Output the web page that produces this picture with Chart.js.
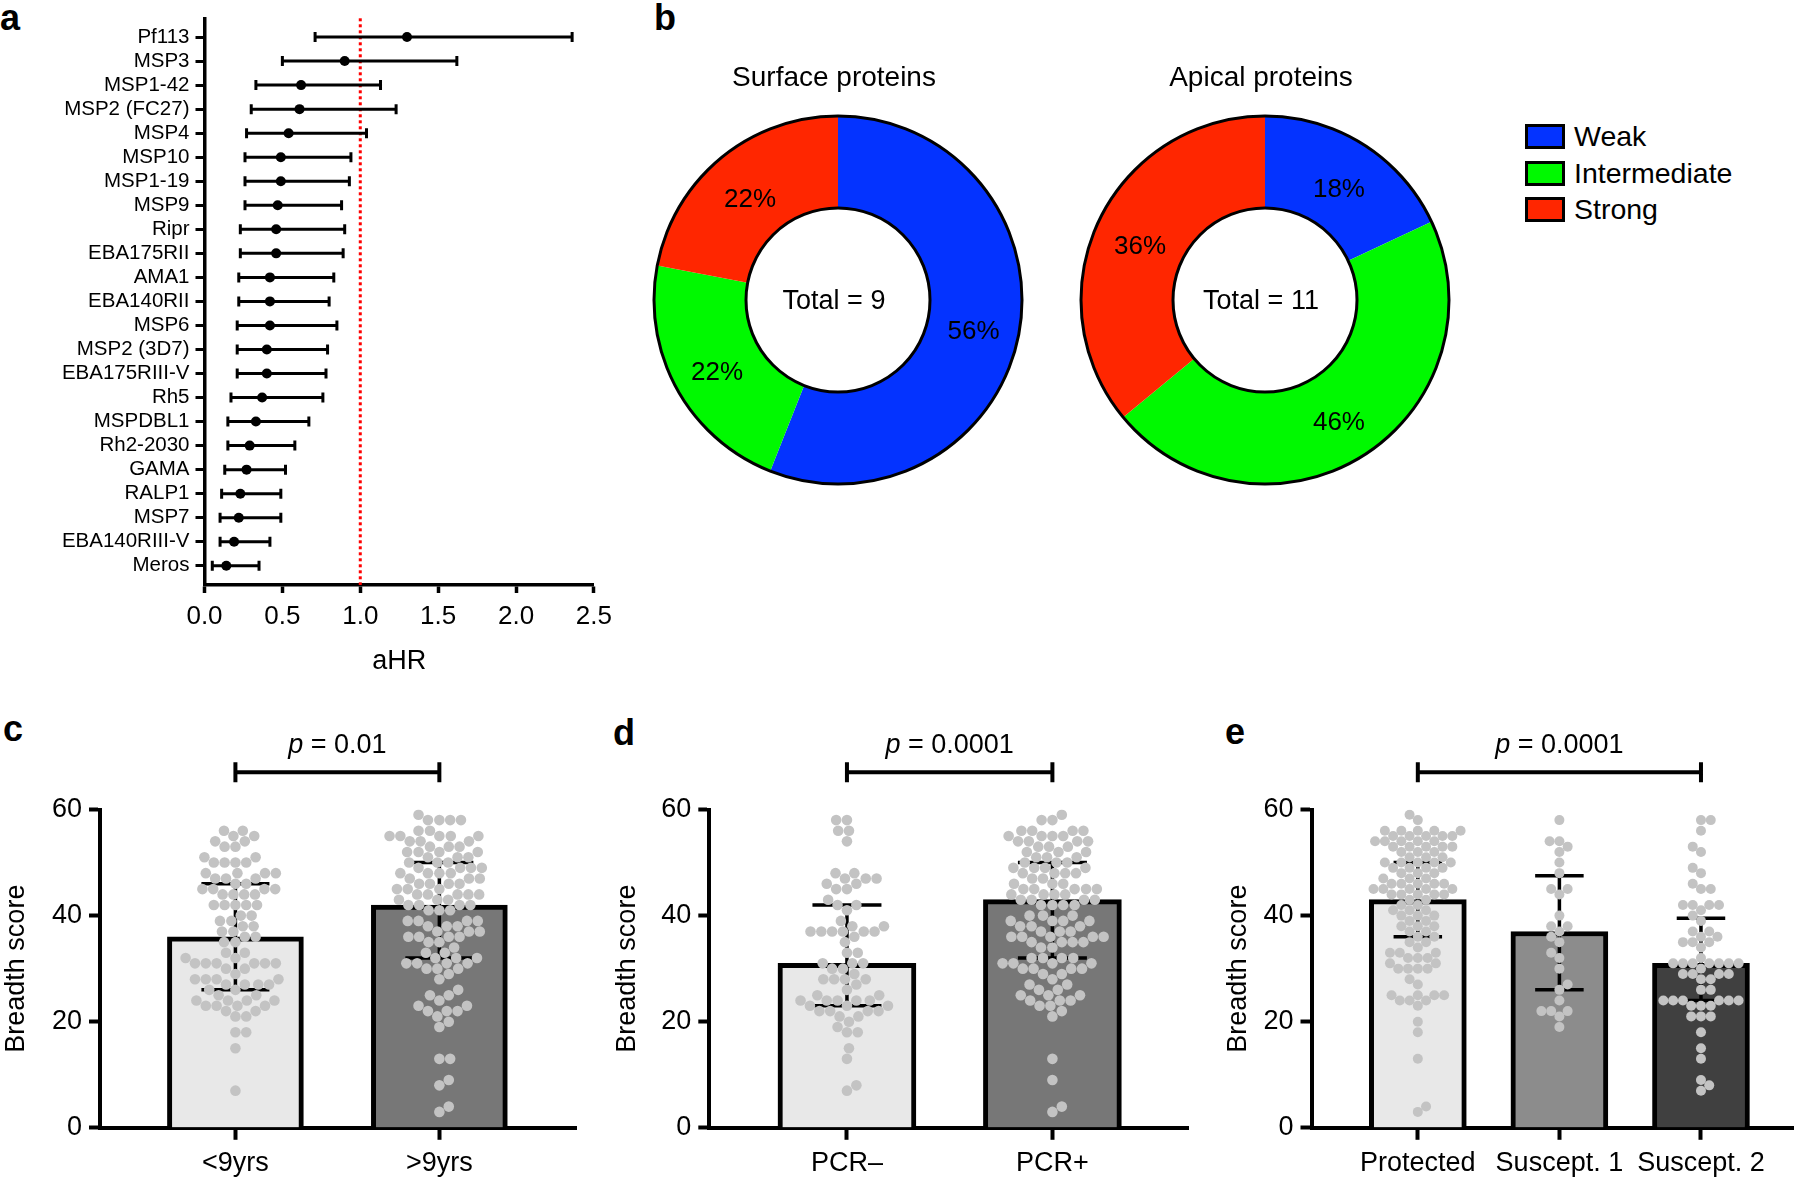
<!DOCTYPE html>
<html lang="en">
<head>
<meta charset="UTF-8" />
<title>Breadth of antibody response</title>
<script src="https://cdn.jsdelivr.net/npm/chart.js@4.4.1/dist/chart.umd.min.js"></script>
<style>
  body { margin: 0; background: #fff; }
  .page { position: relative; width: 1798px; height: 1178px; overflow: hidden;
          font-family: "Liberation Sans", Arial, Helvetica, sans-serif; color: #000; }
  .box { position: absolute; }
  .tag { position: absolute; font-size: 36px; font-weight: bold; line-height: 1; }
  .leg { position: absolute; left: 1525px; height: 25px; display: flex; align-items: center; font-size: 28.5px; }
  .leg span.sw { width: 34px; height: 19px; border: 3px solid #000; margin-right: 9px; }
</style>
</head>
<body>
<div class="page">
  <div class="tag" style="left:0px;top:0px">a</div>
  <div class="tag" style="left:654px;top:0px">b</div>
  <div class="tag" style="left:3px;top:711px">c</div>
  <div class="tag" style="left:613px;top:715px">d</div>
  <div class="tag" style="left:1225px;top:714px">e</div>

  <div class="box" style="left:0;top:0;width:620px;height:690px"><canvas id="chartA"></canvas></div>
  <div class="box" style="left:638px;top:40px;width:400px;height:460px"><canvas id="chartSurface"></canvas></div>
  <div class="box" style="left:1065px;top:40px;width:400px;height:460px"><canvas id="chartApical"></canvas></div>
  <div id="legend"></div>

  <div class="box" style="left:0;top:700px;width:600px;height:478px"><canvas id="chartC"></canvas></div>
  <div class="box" style="left:611px;top:700px;width:599px;height:478px"><canvas id="chartD"></canvas></div>
  <div class="box" style="left:1222px;top:700px;width:576px;height:478px"><canvas id="chartE"></canvas></div>
</div>
<script>
  // ---- panel a: adjusted hazard ratios ----
  const antigens = ["Pf113", "MSP3", "MSP1-42", "MSP2 (FC27)", "MSP4", "MSP10", "MSP1-19", "MSP9", "Ripr",
    "EBA175RII", "AMA1", "EBA140RII", "MSP6", "MSP2 (3D7)", "EBA175RIII-V", "Rh5", "MSPDBL1", "Rh2-2030",
    "GAMA", "RALP1", "MSP7", "EBA140RIII-V", "Meros"];
  const ahr = [1.30, 0.90, 0.62, 0.61, 0.54, 0.49, 0.49, 0.47, 0.46, 0.46, 0.42, 0.42, 0.42, 0.40, 0.40,
    0.37, 0.33, 0.29, 0.27, 0.23, 0.22, 0.19, 0.14];
  const ahrLow = [0.71, 0.50, 0.33, 0.30, 0.27, 0.26, 0.26, 0.26, 0.23, 0.23, 0.22, 0.22, 0.21, 0.21, 0.21,
    0.17, 0.15, 0.15, 0.13, 0.11, 0.10, 0.10, 0.05];
  const ahrHigh = [2.36, 1.62, 1.13, 1.23, 1.04, 0.94, 0.93, 0.88, 0.90, 0.89, 0.83, 0.80, 0.85, 0.79, 0.78,
    0.76, 0.67, 0.58, 0.52, 0.49, 0.49, 0.42, 0.35];
  const ahrTicks = [0, 0.5, 1.0, 1.5, 2.0, 2.5];

  // ---- panel b: response strength ----
  const strengthLabels = ["Weak", "Intermediate", "Strong"];
  const strengthColors = ["#0433FF", "#00F900", "#FF2600"];
  const surfacePct = [56, 22, 22];
  const apicalPct = [18, 46, 36];
  const surfaceTotal = 9;
  const apicalTotal = 11;

  // ---- panel c: age ----
  const ageGroups = ["<9yrs", ">9yrs"];
  const ageMedian = [36, 42];
  const ageLow = [26, 32];
  const ageHigh = [46, 50];
  const ageYoung = [56, 56, 55, 55, 54, 54, 53, 53, 51, 51, 50, 50, 50, 50, 48, 48, 48, 48, 47, 47, 47, 46, 46,
    45, 45, 45, 45, 44, 44, 44, 44, 42, 42, 42, 42, 42, 40, 40, 39, 39, 38, 38, 37, 37, 36, 36, 35, 35, 33, 33,
    32, 32, 31, 31, 31, 31, 31, 31, 30, 30, 29, 28, 28, 28, 28, 27, 27, 27, 27, 26, 26, 25, 25, 24, 24, 24, 24,
    23, 23, 23, 23, 22, 22, 21, 21, 18, 18, 15, 7];
  const ageOld = [59, 58, 58, 58, 58, 56, 56, 55, 55, 55, 55, 55, 54, 54, 54, 53, 53, 53, 52, 52, 52, 52, 51,
    51, 51, 50, 50, 50, 49, 49, 49, 49, 48, 48, 48, 48, 47, 47, 47, 46, 46, 46, 46, 45, 45, 45, 44, 44, 44, 44,
    44, 43, 43, 43, 42, 42, 42, 42, 41, 41, 41, 39, 39, 39, 39, 38, 38, 38, 37, 37, 37, 36, 36, 36, 36, 35, 35,
    34, 33, 33, 32, 32, 32, 31, 31, 31, 31, 30, 30, 30, 29, 28, 26, 25, 25, 24, 23, 23, 22, 22, 22, 21, 20, 19,
    13, 13, 9, 8, 4, 3];

  // ---- panel d: PCR status ----
  const pcrGroups = ["PCR\u2013", "PCR+"];
  const pcrMedian = [31, 43];
  const pcrLow = [23, 32];
  const pcrHigh = [42, 50];
  const pcrNeg = [58, 58, 56, 56, 54, 48, 48, 47, 47, 47, 46, 46, 45, 45, 43, 42, 42, 41, 39, 38, 38, 37, 37,
    37, 37, 37, 37, 36, 35, 33, 33, 31, 31, 31, 30, 30, 29, 28, 28, 28, 28, 27, 26, 25, 25, 24, 24, 24, 24, 24,
    23, 23, 23, 22, 22, 22, 22, 21, 21, 20, 19, 18, 18, 15, 13, 8, 7];
  const pcrPos = [59, 58, 58, 56, 56, 56, 56, 55, 55, 55, 55, 54, 54, 54, 54, 53, 53, 53, 52, 52, 52, 51, 51,
    51, 50, 50, 50, 49, 49, 49, 49, 48, 48, 48, 48, 47, 47, 46, 46, 46, 45, 45, 45, 45, 45, 44, 44, 44, 44, 43,
    43, 43, 43, 42, 42, 42, 42, 40, 40, 40, 39, 39, 39, 39, 38, 38, 38, 37, 37, 37, 36, 36, 36, 36, 36, 35, 35,
    35, 35, 34, 34, 32, 32, 32, 32, 31, 31, 31, 31, 30, 30, 30, 30, 29, 29, 28, 27, 27, 26, 26, 25, 25, 25, 24,
    24, 24, 23, 23, 22, 21, 13, 9, 4, 3];

  // ---- panel e: clinical outcome ----
  const outcomeGroups = ["Protected", "Suscept. 1", "Suscept. 2"];
  const outcomeMedian = [43, 37, 31];
  const outcomeLow = [36, 26, 24];
  const outcomeHigh = [50, 47.5, 39.5];
  const protectedDots = [59, 58, 56, 56, 56, 56, 56, 55, 55, 55, 55, 55, 54, 54, 54, 54, 54, 53, 53, 53, 53,
    53, 52, 52, 52, 51, 51, 51, 50, 50, 50, 50, 50, 49, 49, 49, 49, 48, 48, 48, 47, 47, 47, 46, 46, 46, 46, 46,
    45, 45, 45, 45, 45, 44, 44, 44, 44, 44, 43, 43, 42, 42, 41, 41, 41, 40, 40, 40, 39, 39, 38, 38, 38, 37, 37,
    36, 36, 35, 35, 34, 33, 33, 33, 32, 32, 32, 31, 31, 30, 30, 30, 30, 28, 27, 25, 25, 25, 25, 24, 24, 24, 23,
    20, 18, 13, 4, 3];
  const suscept1Dots = [58, 54, 54, 53, 52, 50, 48, 45, 45, 44, 40, 38, 38, 37, 36, 35, 33, 32, 30, 27, 26, 24,
    22, 22, 22, 21, 19];
  const suscept2Dots = [58, 58, 56, 53, 52, 49, 48, 46, 45, 45, 42, 42, 42, 42, 41, 40, 39, 37, 37, 36, 36, 35,
    35, 35, 34, 32, 31, 31, 31, 31, 31, 31, 31, 30, 29, 29, 29, 29, 28, 28, 26, 26, 24, 24, 24, 24, 24, 24, 23,
    23, 23, 21, 21, 21, 18, 15, 13, 9, 8, 7];

  const FONT = "'Liberation Sans', Arial, Helvetica, sans-serif";
  Chart.defaults.font.family = FONT;
  Chart.defaults.color = "#000";
  Chart.defaults.animation = false;
  Chart.defaults.plugins.legend.display = false;
  Chart.defaults.plugins.tooltip.enabled = false;

  /** panel a */
  const nA = antigens.length;
  const rowY = (i) => nA - 1 - i;

  const ahrWhiskers = {
    id: "ahrWhiskers",
    beforeDatasetsDraw(chart) {
      const { ctx, chartArea } = chart;
      const x = chart.scales.x, y = chart.scales.y;
      ctx.save();
      ctx.strokeStyle = "#FF0000";
      ctx.lineWidth = 3;
      ctx.setLineDash([3, 3]);
      const xr = x.getPixelForValue(1);
      ctx.beginPath();
      ctx.moveTo(xr, chartArea.top);
      ctx.lineTo(xr, chartArea.bottom);
      ctx.stroke();
      ctx.setLineDash([]);
      ctx.strokeStyle = "#000";
      ctx.lineWidth = 3;
      antigens.forEach((name, i) => {
        const py = y.getPixelForValue(rowY(i));
        const x0 = x.getPixelForValue(ahrLow[i]);
        const x1 = x.getPixelForValue(ahrHigh[i]);
        ctx.beginPath();
        ctx.moveTo(x0, py); ctx.lineTo(x1, py);
        ctx.moveTo(x0, py - 5); ctx.lineTo(x0, py + 5);
        ctx.moveTo(x1, py - 5); ctx.lineTo(x1, py + 5);
        ctx.stroke();
      });
      ctx.restore();
    },
  };

  new Chart(document.getElementById("chartA"), {
    type: "scatter",
    data: {
      datasets: [{
        data: ahr.map((v, i) => ({ x: v, y: rowY(i) })),
        pointRadius: 5,
        pointBackgroundColor: "#000",
        pointBorderWidth: 0,
      }],
    },
    options: {
      responsive: true,
      maintainAspectRatio: false,
      layout: { padding: { top: 18, right: 25, left: 0, bottom: 0 } },
      scales: {
        x: {
          type: "linear", min: 0, max: 2.5,
          afterBuildTicks: (s) => { s.ticks = ahrTicks.map((v) => ({ value: v })); },
          afterFit: (s) => { s.height = 105; },
          ticks: { font: { size: 26 }, padding: 8, maxRotation: 0, callback: (v) => Number(v).toFixed(1) },
          grid: { display: true, drawOnChartArea: false, tickLength: 8, tickWidth: 3.5, tickColor: "#000" },
          border: { display: true, color: "#000", width: 3.5 },
          title: { display: true, text: "aHR", font: { size: 27 }, padding: { top: 0, bottom: 12 } },
        },
        y: {
          type: "linear", min: -0.8, max: nA - 1 + 0.78,
          afterBuildTicks: (s) => { s.ticks = antigens.map((n, i) => ({ value: rowY(i) })); },
          afterFit: (s) => { s.width = 204.5; },
          ticks: { font: { size: 20.5 }, padding: 6, autoSkip: false, callback: (v) => antigens[nA - 1 - v] },
          grid: { display: true, drawOnChartArea: false, tickLength: 9, tickWidth: 3, tickColor: "#000" },
          border: { display: true, color: "#000", width: 3.5 },
        },
      },
    },
    plugins: [ahrWhiskers],
  });

  /** panel b */
  function donut(id, title, pct, total) {
    const ringText = {
      id: "ringText",
      afterDatasetsDraw(chart) {
        const { ctx } = chart;
        const meta = chart.getDatasetMeta(0);
        const a0 = meta.data[0];
        ctx.save();
        ctx.strokeStyle = "#000";
        ctx.lineWidth = 3;
        ctx.beginPath(); ctx.arc(a0.x, a0.y, a0.outerRadius, 0, Math.PI * 2); ctx.stroke();
        ctx.beginPath(); ctx.arc(a0.x, a0.y, a0.innerRadius, 0, Math.PI * 2); ctx.stroke();
        ctx.fillStyle = "#000";
        ctx.textAlign = "center";
        ctx.textBaseline = "middle";
        ctx.font = "26px " + FONT;
        meta.data.forEach((arc, i) => {
          const p = arc.tooltipPosition();
          ctx.fillText(pct[i] + "%", p.x, p.y + 6);
        });
        ctx.font = "27px " + FONT;
        ctx.fillText("Total = " + total, a0.x - 4, a0.y + 2);
        ctx.font = "28px " + FONT;
        ctx.fillText(title, a0.x - 4, a0.y - 222);
        ctx.restore();
      },
    };
    new Chart(document.getElementById(id), {
      type: "doughnut",
      data: {
        labels: strengthLabels,
        datasets: [{ data: pct, backgroundColor: strengthColors, borderWidth: 0 }],
      },
      options: {
        responsive: true,
        maintainAspectRatio: false,
        cutout: "50%",
        layout: { padding: { top: 76, left: 16, right: 16, bottom: 16 } },
      },
      plugins: [ringText],
    });
  }
  donut("chartSurface", "Surface proteins", surfacePct, surfaceTotal);
  donut("chartApical", "Apical proteins", apicalPct, apicalTotal);

  const legend = document.getElementById("legend");
  strengthLabels.forEach((lab, i) => {
    const row = document.createElement("div");
    row.className = "leg";
    row.style.top = (124 + i * 36.7) + "px";
    row.innerHTML = '<span class="sw" style="background:' + strengthColors[i] + '"></span>' + lab;
    legend.appendChild(row);
  });

  /** panels c, d, e */
  // greedy beeswarm: lowest values first, each dot goes to the free spot nearest the centre
  function swarm(pys, minDist) {
    const placed = [];
    let flip = 1;
    return pys.map((py) => {
      const near = placed.filter((p) => Math.abs(p.y - py) < minDist);
      const cands = [0];
      near.forEach((p) => {
        const dx = Math.sqrt(minDist * minDist - (p.y - py) * (p.y - py));
        cands.push(p.x + dx, p.x - dx);
      });
      cands.sort((a, b) => Math.abs(a) - Math.abs(b) || (a - b) * flip);
      let best = cands[cands.length - 1];
      for (const c of cands) {
        if (near.every((p) => (p.x - c) ** 2 + (p.y - py) ** 2 >= minDist * minDist - 0.01)) { best = c; break; }
      }
      flip = -flip;
      placed.push({ x: best, y: py });
      return best;
    });
  }

  function barPanel(cfg) {
    const n = cfg.cats.length;
    const extras = {
      id: "extras",
      afterDatasetDraw(chart, args) {
        if (args.index !== 0) return;
        const { ctx } = chart;
        const x = chart.scales.x, y = chart.scales.y;
        const half = cfg.barPx * 0.25;
        ctx.save();
        ctx.strokeStyle = "#000";
        ctx.lineWidth = 3.5;
        cfg.median.forEach((m, i) => {
          const px = x.getPixelForValue(i + 1);
          const yl = y.getPixelForValue(cfg.low[i]);
          const yh = y.getPixelForValue(cfg.high[i]);
          ctx.beginPath();
          ctx.moveTo(px, yl); ctx.lineTo(px, yh);
          ctx.moveTo(px - half, yl); ctx.lineTo(px + half, yl);
          ctx.moveTo(px - half, yh); ctx.lineTo(px + half, yh);
          ctx.stroke();
        });
        ctx.restore();
      },
      afterDraw(chart) {
        const { ctx } = chart;
        const x = chart.scales.x, y = chart.scales.y;
        const x0 = x.getPixelForValue(1), x1 = x.getPixelForValue(n);
        const by = y.getPixelForValue(67);
        ctx.save();
        ctx.strokeStyle = "#000";
        ctx.lineWidth = 4;
        ctx.beginPath();
        ctx.moveTo(x0, by); ctx.lineTo(x1, by);
        ctx.moveTo(x0, by - 10); ctx.lineTo(x0, by + 10);
        ctx.moveTo(x1, by - 10); ctx.lineTo(x1, by + 10);
        ctx.stroke();
        ctx.fillStyle = "#000";
        ctx.textBaseline = "middle";
        ctx.textAlign = "left";
        ctx.font = "italic 27px " + FONT;
        const wp = ctx.measureText("p").width;
        const rest = " = " + cfg.p;
        ctx.font = "27px " + FONT;
        const wr = ctx.measureText(rest).width;
        const sx = (x0 + x1) / 2 - (wp + wr) / 2;
        ctx.font = "italic 27px " + FONT;
        ctx.fillText("p", sx, by - 27);
        ctx.font = "27px " + FONT;
        ctx.fillText(rest, sx + wp, by - 27);
        ctx.restore();
      },
    };

    const chart = new Chart(document.getElementById(cfg.id), {
      type: "bar",
      data: {
        datasets: [
          {
            type: "bar",
            data: cfg.median.map((v, i) => ({ x: i + 1, y: v })),
            backgroundColor: cfg.fills,
            borderColor: "#000",
            borderWidth: 5,
            borderSkipped: "bottom",
            barThickness: cfg.barPx,
            order: 2,
          },
        ].concat(cfg.dots.map((vals, i) => ({
          type: "scatter",
          data: vals.map((v) => ({ x: i + 1, y: v })),
          pointRadius: cfg.dotR,
          pointBackgroundColor: "#C3C3C3",
          pointBorderWidth: 0,
          order: 1,
        }))),
      },
      options: {
        responsive: true,
        maintainAspectRatio: false,
        layout: { padding: { top: cfg.padTop, right: cfg.padRight, left: 0, bottom: 0 } },
        scales: {
          x: {
            type: "linear", min: cfg.xMin, max: cfg.xMax, offset: false, bounds: "data",
            afterBuildTicks: (s) => { s.ticks = cfg.cats.map((c, i) => ({ value: i + 1 })); },
            afterFit: (s) => { s.height = 50.2; },
            ticks: { font: { size: 27 }, padding: 8, maxRotation: 0, autoSkip: false, callback: (v) => cfg.cats[v - 1] },
            grid: { display: true, offset: false, drawOnChartArea: false, tickLength: 12, tickWidth: 4, tickColor: "#000" },
            border: { display: true, color: "#000", width: 4 },
          },
          y: {
            type: "linear", min: 0, max: 60,
            afterFit: (s) => { s.width = cfg.axisW; },
            ticks: { stepSize: 20, font: { size: 27 }, padding: 7 },
            grid: { display: true, drawOnChartArea: false, tickLength: 11, tickWidth: 4, tickColor: "#000" },
            border: { display: true, color: "#000", width: 4 },
            title: { display: true, text: "Breadth score", font: { size: 27 }, padding: { top: 0, bottom: 0 } },
          },
        },
      },
      plugins: [extras],
    });

    // spread the dots sideways once the scales exist
    const x = chart.scales.x, y = chart.scales.y;
    const pxPerUnit = x.getPixelForValue(1) - x.getPixelForValue(0);
    cfg.dots.forEach((vals, i) => {
      const sorted = vals.slice().sort((a, b) => a - b);
      const offs = swarm(sorted.map((v) => y.getPixelForValue(v)), cfg.dotDist);
      chart.data.datasets[i + 1].data = sorted.map((v, k) => ({ x: i + 1 + offs[k] / pxPerUnit, y: v }));
    });
    chart.update("none");
  }

  barPanel({
    id: "chartC", cats: ageGroups, median: ageMedian, low: ageLow, high: ageHigh,
    dots: [ageYoung, ageOld], fills: ["#E8E8E8", "#777777"], p: "0.01",
    xMin: 0.336, xMax: 2.67, barPx: 136, axisW: 100, padTop: 109.5, padRight: 24, dotR: 5.3, dotDist: 10.8,
  });
  barPanel({
    id: "chartD", cats: pcrGroups, median: pcrMedian, low: pcrLow, high: pcrHigh,
    dots: [pcrNeg, pcrPos], fills: ["#E8E8E8", "#777777"], p: "0.0001",
    xMin: 0.33, xMax: 2.66, barPx: 138, axisW: 98.3, padTop: 109.5, padRight: 22, dotR: 5.3, dotDist: 10.8,
  });
  barPanel({
    id: "chartE", cats: outcomeGroups, median: outcomeMedian, low: outcomeLow, high: outcomeHigh,
    dots: [protectedDots, suscept1Dots, suscept2Dots], fills: ["#E8E8E8", "#8C8C8C", "#404040"], p: "0.0001",
    xMin: 0.249, xMax: 3.65, barPx: 97, axisW: 89.5, padTop: 109.5, padRight: 2, dotR: 5, dotDist: 9.8,
  });
</script>
</body>
</html>
